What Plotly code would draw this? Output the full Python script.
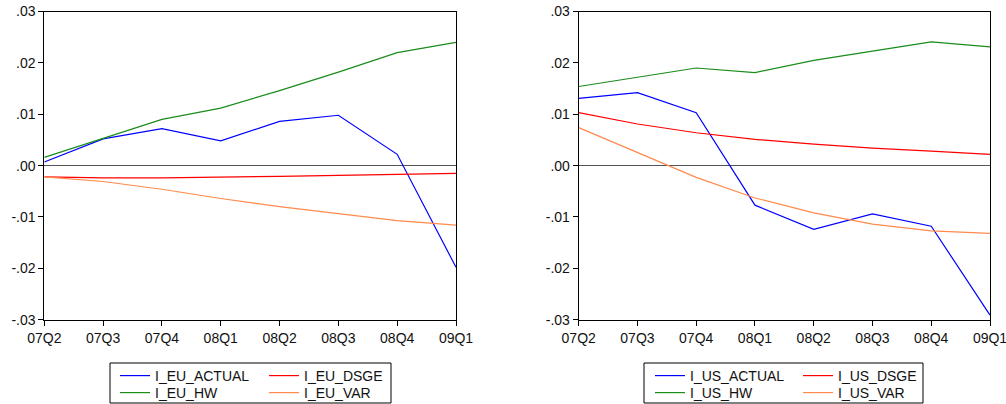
import plotly.graph_objects as go

quarters = ["07Q2", "07Q3", "07Q4", "08Q1", "08Q2", "08Q3", "08Q4", "09Q1"]

i_eu_actual = [0.0007, 0.0052, 0.0072, 0.0048, 0.0086, 0.0098, 0.0022, -0.0198]
i_eu_dsge = [-0.0022, -0.0024, -0.0024, -0.0023, -0.0021, -0.0019, -0.0017, -0.0015]
i_eu_hw = [0.0016, 0.0053, 0.0090, 0.0112, 0.0146, 0.0182, 0.0220, 0.0240]
i_eu_var = [-0.0022, -0.0031, -0.0046, -0.0064, -0.0080, -0.0094, -0.0107, -0.0116]

i_us_actual = [0.0131, 0.0142, 0.0103, -0.0077, -0.0124, -0.0094, -0.0118, -0.0291]
i_us_dsge = [0.0103, 0.0081, 0.0064, 0.0051, 0.0042, 0.0034, 0.0028, 0.0022]
i_us_hw = [0.0154, 0.0172, 0.0190, 0.0181, 0.0205, 0.0223, 0.0241, 0.0231]
i_us_var = [0.0074, 0.0026, -0.0023, -0.0063, -0.0092, -0.0114, -0.0127, -0.0132]

y_ticks = [-0.03, -0.02, -0.01, 0.0, 0.01, 0.02, 0.03]
y_tick_text = ["-.03", "-.02", "-.01", ".00", ".01", ".02", ".03"]

BLUE = "#0000FF"
RED = "#FF0000"
GREEN = "#1A8C1A"
ORANGE = "#FF8A4C"

FONT = "Liberation Sans, Arial, sans-serif"
W, H = 1006, 404

def px_x(p):
    return p / W

def px_y(p):
    return 1 - p / H

fig = go.Figure()

names = ["ACTUAL", "DSGE", "HW", "VAR"]
colors = [BLUE, RED, GREEN, ORANGE]
# legend grid: (column, row) of each series inside its box
grid = [(0, 0), (1, 0), (0, 1), (1, 1)]

panels = [
    ("EU", [i_eu_actual, i_eu_dsge, i_eu_hw, i_eu_var], "x", "y", (115, 264)),
    ("US", [i_us_actual, i_us_dsge, i_us_hw, i_us_var], "x2", "y2", (650, 798)),
]
row_top = (360, 377)

legend_common = dict(
    orientation="v", xanchor="left", yanchor="top",
    bgcolor="rgba(0,0,0,0)", borderwidth=0,
    font=dict(family=FONT, size=14, color="#111"),
    itemwidth=30,
)

n = 0
for region, series, xa, ya, col_x in panels:
    for name, vals, col, (gc, gr) in zip(names, series, colors, grid):
        n += 1
        key = "legend" if n == 1 else f"legend{n}"
        fig.add_trace(go.Scatter(
            x=quarters, y=vals, mode="lines",
            name=f"I_{region}_{name}",
            line=dict(color=col, width=1.2),
            xaxis=xa, yaxis=ya, legend=key,
        ))
        fig.update_layout({key: dict(x=px_x(col_x[gc]), y=px_y(row_top[gr]),
                                     **legend_common)})

y_dom = [px_y(319.7), px_y(11.5)]
x_doms = [[px_x(44.3), px_x(456.0)], [px_x(578.7), px_x(990.0)]]

axis_common = dict(
    showline=True, linecolor="black", linewidth=1, mirror=True,
    ticks="outside", ticklen=5, tickcolor="black", tickwidth=1,
    showgrid=False, automargin=False,
    tickfont=dict(family=FONT, size=14, color="#111"),
)

for i, dom in enumerate(x_doms):
    sfx = "" if i == 0 else "2"
    fig.update_layout({
        f"xaxis{sfx}": dict(
            domain=dom, type="category", range=[0, 7],
            anchor=f"y{sfx}", zeroline=False, **axis_common,
        ),
        f"yaxis{sfx}": dict(
            domain=y_dom, range=[-0.03, 0.03], anchor=f"x{sfx}",
            tickvals=y_ticks, ticktext=y_tick_text,
            zeroline=True, zerolinecolor="#555", zerolinewidth=1,
            **axis_common,
        ),
    })

# boxes around each two-column legend
for x0, x1 in [(110, 391), (644, 923)]:
    fig.add_shape(type="rect", xref="paper", yref="paper",
                  x0=px_x(x0), x1=px_x(x1), y0=px_y(403), y1=px_y(363),
                  line=dict(color="black", width=1))

fig.update_layout(
    width=W, height=H,
    margin=dict(l=0, r=0, t=0, b=0, autoexpand=False),
    paper_bgcolor="white", plot_bgcolor="white",
    showlegend=True,
)

fig.write_html("out.html")
